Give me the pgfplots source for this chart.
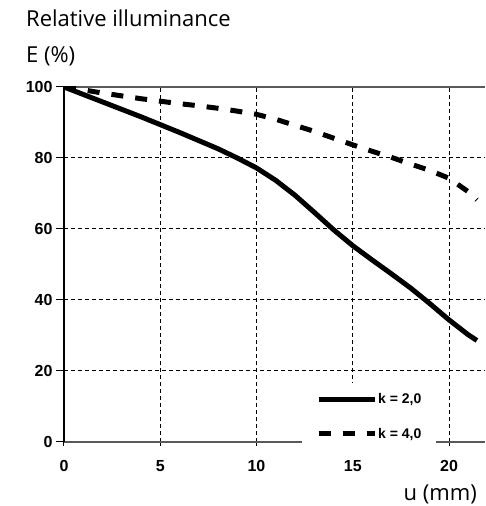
\documentclass[border=0pt]{standalone}
\usepackage{fontspec}
\setmainfont{Open Sans}
\newfontfamily\arial{Liberation Sans}
\usepackage{pgfplots}
\pgfplotsset{compat=1.18}
\begin{document}
\begin{tikzpicture}
\path[use as bounding box] (-64pt,-64pt) rectangle (421pt,442pt);
\begin{axis}[
  at={(0pt,0pt)}, anchor=south west,
  scale only axis, width=421pt, height=355pt,
  xmin=0, xmax=21.87, ymin=0, ymax=100,
  axis x line=bottom, axis y line=left,
  x axis line style={-, black!65, line width=1.2pt},
  y axis line style={-, black, line width=1.2pt},
  xtick={0,5,10,15,20}, ytick={0,20,40,60,80},
  extra y ticks={100},
  extra y tick style={grid=major, major grid style={solid, black!65, line width=1.2pt}},
  xtick align=center, ytick align=outside,
  major tick length=8pt,
  tick style={black, line width=1pt},
  grid=major,
  major grid style={black, line width=1pt, dash pattern=on 4pt off 3pt},
  /pgf/number format/assume math mode=true,
  ticklabel style={font=\arial\bfseries\fontsize{16}{16}\selectfont},
  xticklabel style={yshift=-11pt},
  legend style={at={(axis cs:12.36,-2.2)}, anchor=south west, fill=white, draw=none,
    inner xsep=14pt, inner ysep=9pt, row sep=21pt,
    font=\arial\bfseries\fontsize{14}{14}\selectfont,
    nodes={inner sep=1pt}},
  legend cell align=left,
  legend image code/.code={\draw[#1] (0pt,0pt) -- (56pt,0pt);},
]
\addplot[black, line width=5pt, line join=round] coordinates {
(0,100) (1,97.9) (2,95.8) (3,93.7) (4,91.6) (5,89.4) (6,87.2) (7,84.9) (8,82.6) (9,80.0) (10,77.2) (11,73.7) (12,69.5) (13,64.7) (14,59.8) (15,55.3) (16,51.3) (17,47.4) (18,43.4) (19,39.0) (20,34.4) (21,30.2) (21.45,28.6)
};
\addlegendentry{k = 2,0}
\addplot[black, line width=5pt, dash pattern=on 12pt off 12pt] coordinates {
(0,100) (1,99.2) (2,98.3) (3,97.5) (4,96.7) (5,96.0) (6,95.3) (7,94.7) (8,94.0) (9,93.2) (10,92.3) (11,90.9) (12,89.2) (13,87.5) (14,85.6) (15,83.7) (16,81.9) (17,80.2) (18,78.3) (19,76.5) (20,74.3) (21,70.5) (21.45,68.2)
};
\addlegendentry{k = 4,0}
\end{axis}
\node[anchor=base west, inner sep=0pt, font=\fontsize{22}{22}\selectfont] at (-38pt,415pt) {Relative illuminance};
\node[anchor=base west, inner sep=0pt, font=\fontsize{22}{22}\selectfont] at (-38pt,379pt) {E (\%)};
\node[anchor=base east, inner sep=0pt, font=\fontsize{22}{22}\selectfont] at (413pt,-58pt) {u (mm)};
\end{tikzpicture}
\end{document}
